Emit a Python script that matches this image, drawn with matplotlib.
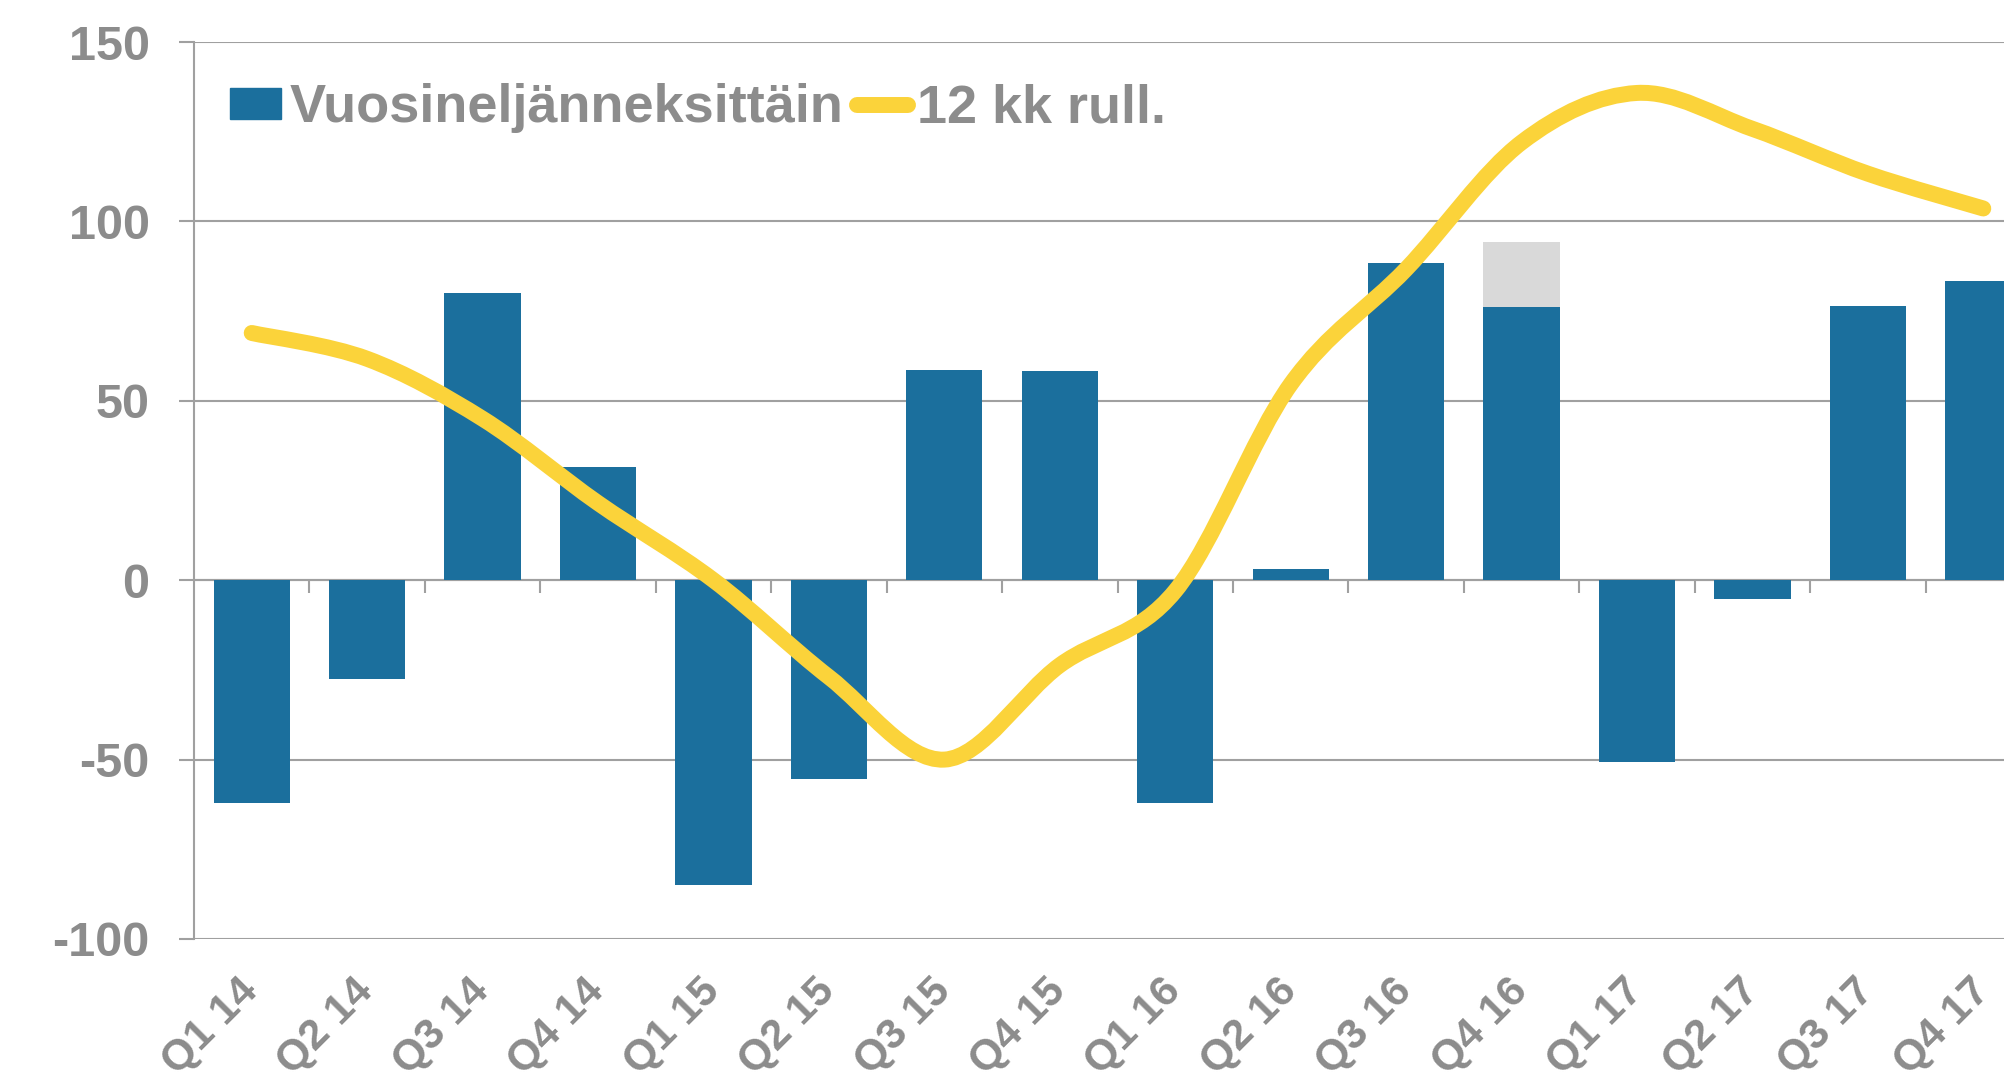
import numpy as np
import matplotlib
matplotlib.use('Agg')
import matplotlib.pyplot as plt
from matplotlib.path import Path
from matplotlib.patches import PathPatch, Patch
from matplotlib.lines import Line2D

plt.rcParams['axes.unicode_minus'] = False

# quarters
quarters = ['Q1 14', 'Q2 14', 'Q3 14', 'Q4 14', 'Q1 15', 'Q2 15', 'Q3 15', 'Q4 15',
            'Q1 16', 'Q2 16', 'Q3 16', 'Q4 16', 'Q1 17', 'Q2 17', 'Q3 17', 'Q4 17']
# quarterly values (blue bars)
quarterly = [-62, -27.5, 80, 31.5, -85, -55.5, 58.5, 58.2,
             -62, 3, 88.5, 76.2, -50.7, -5.2, 76.4, 83.3]
# extra grey part stacked on Q4 16
extra = [0, 0, 0, 0, 0, 0, 0, 0, 0, 0, 0, 18, 0, 0, 0, 0]
# 12 month rolling
rolling = [68.9, 61.7, 45, 21.5, 0, -27, -50, -23.7,
           -3, 54.6, 86.7, 122, 135.8, 125.8, 113.3, 103.6]

blue = '#1b6f9d'
yellow = '#fbd33a'
grey_txt = '#8c8c8c'
grid_col = '#a0a0a0'
font = 'Liberation Sans'
weight = 'bold'

fig = plt.figure(figsize=(20.04, 10.81), dpi=100)
ax = fig.add_axes([194 / 2004, 1 - 939 / 1081, 1847 / 2004, 897 / 1081])

x = np.arange(len(quarters))
ax.bar(x, quarterly, width=0.66, color=blue, zorder=2)
ax.bar(x, extra, width=0.66, bottom=quarterly, color='#d9d9d9', zorder=2)

# smooth line (catmull-rom style bezier through the points)
pts = np.column_stack([x, rolling]).astype(float)
verts = [pts[0]]
codes = [Path.MOVETO]
n = len(pts)
for i in range(n - 1):
    p0 = pts[max(i - 1, 0)]
    p1 = pts[i]
    p2 = pts[i + 1]
    p3 = pts[min(i + 2, n - 1)]
    c1 = p1 + (p2 - p0) / 6
    c2 = p2 - (p3 - p1) / 6
    verts += [c1, c2, p2]
    codes += [Path.CURVE4] * 3
ax.add_patch(PathPatch(Path(verts, codes), facecolor='none', edgecolor=yellow,
                       lw=11.5, capstyle='round', joinstyle='round', zorder=3))

ax.set_xlim(-0.5, 15.5)
ax.set_ylim(-100, 150)
ax.set_yticks([-100, -50, 0, 50, 100, 150])
ax.yaxis.grid(True, color=grid_col, lw=1.5, zorder=0)
ax.set_axisbelow(True)

for s in ['top', 'right']:
    ax.spines[s].set_visible(False)
ax.spines['left'].set_color(grid_col)
ax.spines['left'].set_linewidth(1.5)
ax.spines['bottom'].set_position(('data', 0))
ax.spines['bottom'].set_color(grid_col)
ax.spines['bottom'].set_linewidth(1.5)
ax.spines['bottom'].set_zorder(1)

ax.set_xticks(np.arange(0.5, 15, 1))
ax.tick_params(axis='x', length=9.5, width=1.5, color=grid_col, labelbottom=False)
ax.tick_params(axis='y', length=11, width=1.5, color=grid_col, pad=21,
               labelsize=35, labelcolor=grey_txt)
for lab in ax.get_yticklabels():
    lab.set_fontfamily(font)
    lab.set_fontweight(weight)

sec = ax.secondary_xaxis('bottom')
sec.set_xticks(x)
sec.set_xticklabels(quarters, rotation=45, ha='right', va='center',
                    rotation_mode='anchor', fontsize=31, color=grey_txt,
                    family=font, weight=weight)
sec.tick_params(length=0, pad=33)
sec.spines['bottom'].set_visible(False)

handles = [Patch(color=blue), Line2D([], [], color=yellow, lw=11.5, solid_capstyle='round')]
ax.legend(handles, ['Vuosineljänneksittäin', '12 kk rull.'], ncol=2, frameon=False,
          loc='center left', bbox_to_anchor=(0.0195, 0.926), borderpad=0, borderaxespad=0,
          handlelength=0.95, handleheight=0.5, handletextpad=0.15, columnspacing=0.25,
          prop={'family': font, 'size': 39, 'weight': weight}, labelcolor=grey_txt)

fig.savefig('out.png', dpi=100)
